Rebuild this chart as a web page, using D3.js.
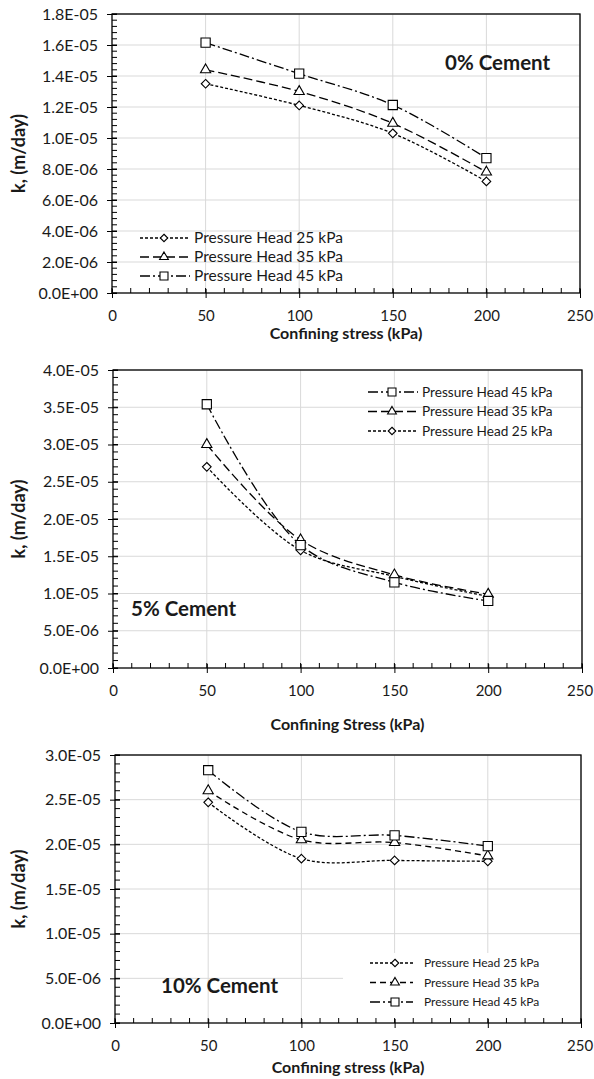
<!DOCTYPE html>
<html>
<head>
<meta charset="utf-8">
<script src="https://cdn.jsdelivr.net/npm/d3@7"></script>
<style>
body{margin:0;background:#fff}
svg text{font-family:Lato,"Open Sans",sans-serif;fill:#1a1a1a}
</style>
</head>
<body>
<div id="chart"></div>
<script>
// confining stress values (kPa)
var stress = [50,100,150,200]
var seriesNames = ["Pressure Head 25 kPa","Pressure Head 35 kPa","Pressure Head 45 kPa"]

// 0% cement
var k0_25 = [1.35e-5,1.21e-5,1.03e-5,7.2e-6]
var k0_35 = [1.44e-5,1.30e-5,1.095e-5,7.8e-6]
var k0_45 = [1.615e-5,1.415e-5,1.213e-5,8.7e-6]
// 5% cement
var k5_25 = [2.70e-5,1.58e-5,1.23e-5,9.6e-6]
var k5_35 = [3.00e-5,1.72e-5,1.25e-5,9.9e-6]
var k5_45 = [3.54e-5,1.65e-5,1.15e-5,9.0e-6]
// 10% cement
var k10_25 = [2.47e-5,1.84e-5,1.82e-5,1.81e-5]
var k10_35 = [2.60e-5,2.05e-5,2.02e-5,1.87e-5]
var k10_45 = [2.83e-5,2.14e-5,2.10e-5,1.98e-5]

var xTicks = [0,50,100,150,200,250]
var yTicks0 = [0,2e-6,4e-6,6e-6,8e-6,1e-5,1.2e-5,1.4e-5,1.6e-5,1.8e-5]
var yTicks5 = [0,5e-6,1e-5,1.5e-5,2e-5,2.5e-5,3e-5,3.5e-5,4e-5]
var yTicks10 = [0,5e-6,1e-5,1.5e-5,2e-5,2.5e-5,3e-5]

var W = 594, H = 1079
var svg = d3.select("#chart").append("svg").attr("width",W).attr("height",H)

var symbols = [d3.symbolDiamond2, d3.symbolTriangle, d3.symbolSquare]
var symSize = [48,45,85]

function fmtE(v){
    var p = v.toExponential(1).split("e")
    var n = +p[1]
    return p[0]+"E"+(n<0?"-":"+")+String(Math.abs(n)).padStart(2,"0")
}

function drawChart(c){
    var g = svg.append("g")
    var x = d3.scaleLinear().domain([0,250]).range([c.left,c.right])
    var y = d3.scaleLinear().domain([0,c.yTicks[c.yTicks.length-1]]).range([c.bottom,c.top])
    var step = c.yTicks[1]

    // grid
    g.selectAll(".hg").data(c.yTicks.slice(1)).enter().append("line")
        .attr("x1",c.left).attr("x2",c.right)
        .attr("y1",function(d){return y(d)}).attr("y2",function(d){return y(d)})
        .attr("stroke","#d9d9d9").attr("stroke-width",1)
    g.selectAll(".vg").data(xTicks.slice(1)).enter().append("line")
        .attr("y1",c.top).attr("y2",c.bottom)
        .attr("x1",function(d){return x(d)}).attr("x2",function(d){return x(d)})
        .attr("stroke","#d9d9d9").attr("stroke-width",1)

    // legend box (only some charts hide the grid)
    if(c.legendBox){
        g.append("rect").attr("x",c.legendBox[0]).attr("y",c.legendBox[1])
            .attr("width",c.legendBox[2]).attr("height",c.legendBox[3]).attr("fill","#fff")
    }

    // minor ticks
    var yMinor = d3.range(0, y.domain()[1]+1e-12, step/5)
    g.selectAll(".ym").data(yMinor).enter().append("line")
        .attr("x1",c.left).attr("x2",c.left+5)
        .attr("y1",function(d){return y(d)}).attr("y2",function(d){return y(d)})
        .attr("stroke","#000").attr("stroke-width",1)
    var xMinor = d3.range(0,251,10)
    g.selectAll(".xm").data(xMinor).enter().append("line")
        .attr("y1",c.bottom).attr("y2",c.bottom-5)
        .attr("x1",function(d){return x(d)}).attr("x2",function(d){return x(d)})
        .attr("stroke","#000").attr("stroke-width",1)

    // axes
    var yAxis = d3.axisLeft(y).tickValues(c.yTicks).tickFormat(fmtE).tickSizeInner(5).tickSizeOuter(0).tickPadding(9)
    var ya = g.append("g").attr("transform","translate("+c.left+",0)").call(yAxis)
    ya.selectAll(".tick line").attr("x2",-5).attr("x1",5)
    ya.selectAll(".tick text").style("font-size","16px")
    var xAxis = d3.axisBottom(x).tickValues(xTicks).tickSizeInner(5).tickSizeOuter(0).tickPadding(12)
    var xa = g.append("g").attr("transform","translate(0,"+c.bottom+")").call(xAxis)
    xa.selectAll(".tick line").attr("y1",-4).attr("y2",5)
    xa.selectAll(".tick text").style("font-size","15px")
    // keep the last label inside the page
    xa.selectAll(".tick text").each(function(d){
        var b = this.getBBox()
        var over = x(d) + b.x + b.width - (W-1)
        if(over>0) d3.select(this).attr("x",-over)
    })
    g.selectAll(".domain").remove()
    g.selectAll(".tick text").style("font-family","Lato").attr("fill","#1a1a1a")

    // frame
    g.append("rect").attr("x",c.left).attr("y",c.top)
        .attr("width",c.right-c.left).attr("height",c.bottom-c.top)
        .attr("fill","none").attr("stroke","#000").attr("stroke-width",1.3)

    // lines
    var line = d3.line().x(function(d){return x(d[0])}).y(function(d){return y(d[1])})
        .curve(d3.curveCatmullRom.alpha(0.5))
    c.series.forEach(function(s,i){
        var pts = stress.map(function(v,j){return [v,s[j]]})
        g.append("path").attr("d",line(pts)).attr("fill","none")
            .attr("stroke","#000").attr("stroke-width",1.3).attr("stroke-dasharray",c.dashes[i])
        g.selectAll(".m"+i).data(pts).enter().append("path")
            .attr("d",d3.symbol().type(symbols[i]).size(symSize[i]))
            .attr("transform",function(d){return "translate("+x(d[0])+","+y(d[1])+")"})
            .attr("fill","#fff").attr("stroke","#000").attr("stroke-width",1.1)
    })

    // legend
    c.legendOrder.forEach(function(i,r){
        var ly = c.legend.y + r*c.legend.dy
        g.append("line").attr("x1",c.legend.x0).attr("x2",c.legend.x1)
            .attr("y1",ly).attr("y2",ly).attr("stroke","#000").attr("stroke-width",1.3)
            .attr("stroke-dasharray",c.dashes[i])
        g.append("path").attr("d",d3.symbol().type(symbols[i]).size(symSize[i]*0.75))
            .attr("transform","translate("+c.legend.xm+","+ly+")")
            .attr("fill","#fff").attr("stroke","#000").attr("stroke-width",1.1)
        g.append("text").text(seriesNames[i]).attr("x",c.legend.tx).attr("y",ly)
            .attr("dy","0.35em").style("font-size",c.legend.fs+"px")
    })

    // labels
    g.append("text").text(c.xTitle).attr("x",(c.left+c.right)/2).attr("y",c.xTitleY)
        .attr("text-anchor","middle").attr("dy","0.35em")
        .style("font-weight","bold").style("font-size","16px")
    g.append("text").text("k, (m/day)")
        .attr("transform","translate(19,"+((c.top+c.bottom)/2)+") rotate(-90)")
        .attr("text-anchor","middle").attr("dy","0.35em")
        .style("font-weight","bold").style("font-size","18px")
    g.append("text").text(c.note).attr("x",c.noteX).attr("y",c.noteY)
        .style("font-weight","bold").style("font-size","20.5px")
}

drawChart({left:112,right:580,top:14,bottom:293,yTicks:yTicks0,
    series:[k0_25,k0_35,k0_45],legendOrder:[0,1,2],dashes:["3,2","9,4","10,3,2,3"],
    legend:{x0:140,x1:190,xm:164,tx:194,y:238,dy:19,fs:15.5},
    xTitle:"Confining stress (kPa)",xTitleY:333,note:"0% Cement",noteX:445,noteY:70})

drawChart({left:113,right:582,top:370,bottom:668,yTicks:yTicks5,
    series:[k5_25,k5_35,k5_45],legendOrder:[2,1,0],dashes:["3,2","9,4","10,3,2,3"],
    legend:{x0:368,x1:418,xm:392,tx:422,y:392,dy:19.5,fs:13.6},
    xTitle:"Confining Stress (kPa)",xTitleY:724,note:"5% Cement",noteX:131,noteY:616})

drawChart({left:115,right:581,top:755,bottom:1023,yTicks:yTicks10,
    series:[k10_25,k10_35,k10_45],legendOrder:[0,1,2],dashes:["3,2","6,4","10,3,2,3"],
    legend:{x0:370,x1:413,xm:395,tx:424,y:963,dy:19.5,fs:12},legendBox:[343,953,237,68],
    xTitle:"Confining stress (kPa)",xTitleY:1067,note:"10% Cement",noteX:161,noteY:993})
</script>
</body>
</html>
